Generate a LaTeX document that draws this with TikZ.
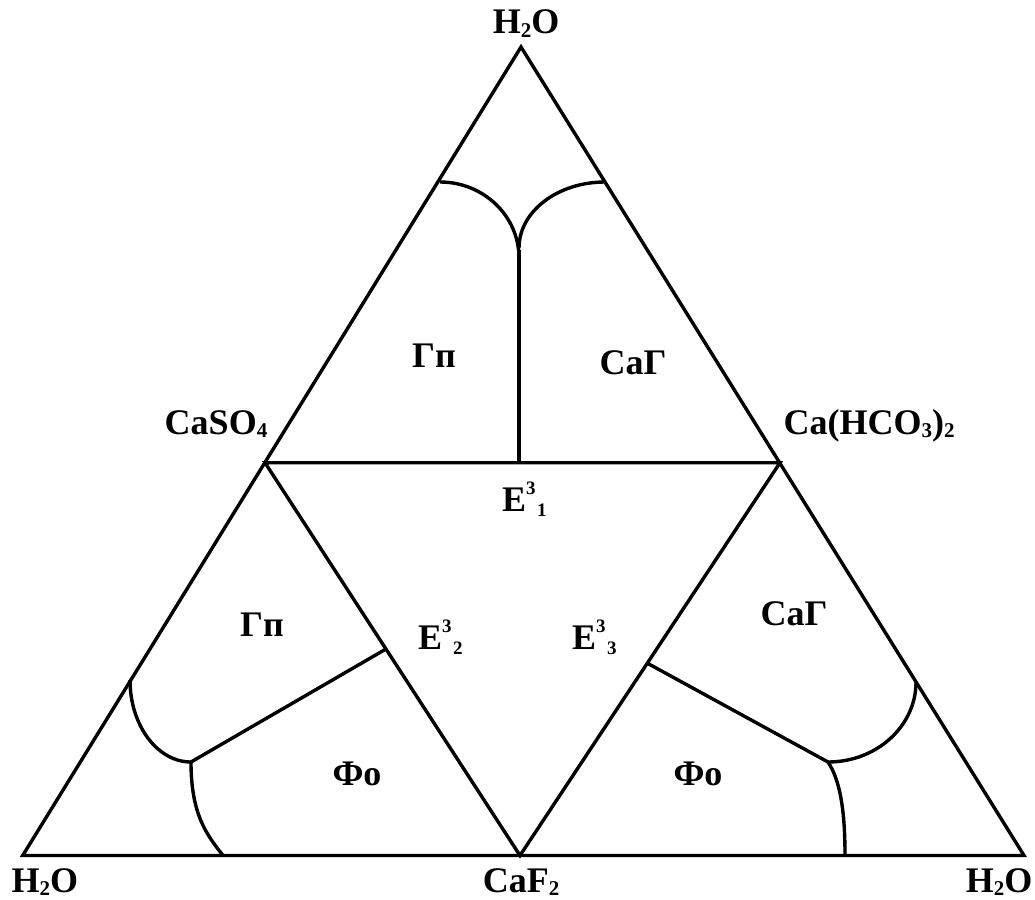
\documentclass[tikz,border=0pt]{standalone}
\usepackage{fontspec}
\setmainfont{Liberation Serif}
\usetikzlibrary{positioning}
\newcommand{\lowidx}[1]{\raisebox{-0.11em}{\fontsize{21}{21}\selectfont #1}}
\newcommand{\eutpoint}[1]{E\raisebox{0.47em}{\fontsize{19}{19}\selectfont 3}\kern1.5pt\raisebox{-0.14em}{\fontsize{19}{19}\selectfont #1}}
\tikzset{
boundary/.style={
  line width=3.4pt,
  line join=miter,
  draw=black
},
phaselabel/.style={
  font=\fontsize{36}{40}\selectfont\bfseries,
  inner sep=0pt,
  anchor=base
},
vertexlabel/.style={
  phaselabel
}
}

\begin{document}
\begin{tikzpicture}[x=1pt, y=1pt]
  \useasboundingbox (0,0) rectangle (1035,-899);

  % Corners
  \coordinate (apex) at (521,-47);
  \coordinate (wcorner) at (22.7,-855.5);
  \coordinate (ecorner) at (1024,-855.5);
  \coordinate (caso) at (265,-462.7);
  \coordinate (cahco) at (780,-462.7);
  \coordinate (caf) at (520,-855.5);

  % Triangles
  \draw[boundary] (wcorner) -- (apex) -- (ecorner) -- cycle;
  \draw[boundary] (caso) -- (cahco) -- (caf) -- cycle;

  % Upper field
  \coordinate (topwest) at (440,-182);
  \coordinate (topeast) at (605,-182);
  \coordinate (topjoin) at (519,-250);
  \coordinate (topbase) at (519,-462.7);
  \draw[boundary] (topwest) arc[start angle=90, end angle=0, x radius=79, y radius=76];
  \draw[boundary] (topeast) arc[start angle=90, end angle=180, x radius=86, y radius=66];
  \draw[boundary] (topbase) -- (topjoin);

  % Lower left field
  \coordinate (wedge) at (130,-680);
  \coordinate (wjoin) at (191,-762);
  \coordinate (winner) at (386,-649);
  \coordinate (wbase) at (223,-855.5);
  \draw[boundary] (wedge) arc[start angle=180, end angle=270, x radius=61, y radius=82];
  \draw[boundary] (wjoin) -- (winner);
  \draw[boundary] (wjoin) .. controls (191,-815) and (207,-835) .. (wbase);

  % Lower right field
  \coordinate (ejoin) at (828,-762);
  \coordinate (einner) at (647,-663);
  \coordinate (ebase) at (845,-855.5);
  \draw[boundary] (ejoin) arc[start angle=270, end angle=360, x radius=88, y radius=80];
  \draw[boundary] (ejoin) -- (einner);
  \draw[boundary] (ejoin) .. controls (840,-780) and (845,-810) .. (ebase);

  % Vertex labels
  \node[vertexlabel] (h2otop) at (526,-34) {H\lowidx{2}O};
  \node[vertexlabel] (h2owest) at (45,-892) {H\lowidx{2}O};
  \node[vertexlabel] (h2oeast) at (999,-892) {H\lowidx{2}O};
  \node[vertexlabel] (caf2) at (521,-892) {CaF\lowidx{2}};
  \node[vertexlabel] (caso4) at (216,-434) {CaSO\lowidx{4}};
  \node[vertexlabel] (cahco3) at (869,-434) {Ca(HCO\lowidx{3})\lowidx{2}};

  % Phase fields
  \node[phaselabel] (gptop) at (434,-367) {Гп};
  \node[phaselabel] (cagtop) at (633,-374) {СаГ};
  \node[phaselabel] (gpwest) at (262,-636) {Гп};
  \node[phaselabel] (cageast) at (794,-625) {СаГ};
  \node[phaselabel] (fowest) at (357,-785) {Фо};
  \node[phaselabel] (foeast) at (698,-785) {Фо};

  % Eutectic points
  \node[phaselabel, anchor=base west] (eone) at (502,-511) {\eutpoint{1}};
  \node[phaselabel, anchor=base west] (etwo) at (418,-649) {\eutpoint{2}};
  \node[phaselabel, anchor=base west] (ethree) at (572,-649) {\eutpoint{3}};
\end{tikzpicture}
\end{document}
